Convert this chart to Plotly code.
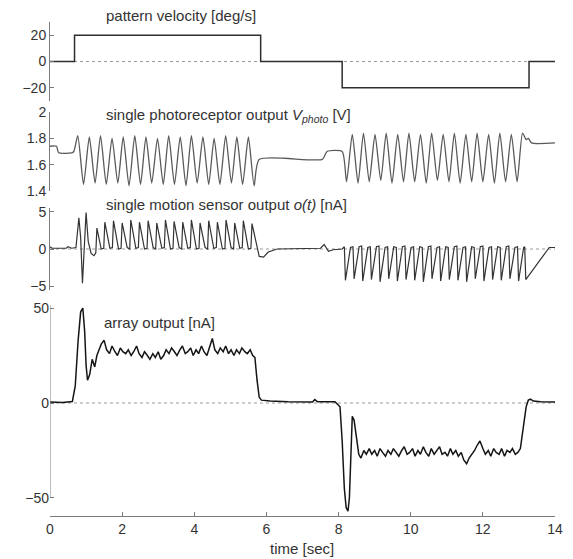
import plotly.graph_objects as go

# ---------------- data ----------------
time_ticks = [0, 2, 4, 6, 8, 10, 12, 14]

# pattern velocity [deg/s]
vel_t = [0.00, 0.68, 0.68, 5.84, 5.84, 8.10, 8.10, 13.28, 13.28, 14.00]
vel_v = [0, 0, 20, 20, 0, 0, -20, -20, 0, 0]

# single photoreceptor output [V]
photo_t = [0.00, 0.18, 0.24, 0.60, 0.66,
           0.77, 0.93, 1.09, 1.25, 1.40, 1.56, 1.72, 1.88, 2.03, 2.19, 2.35, 2.51, 2.66, 2.82, 2.98, 3.14,
           3.29, 3.45, 3.61, 3.77, 3.92, 4.08, 4.24, 4.40, 4.55, 4.71, 4.87, 5.03, 5.18, 5.34, 5.50, 5.66,
           5.80, 7.55, 7.68, 8.10,
           8.22, 8.38, 8.54, 8.69, 8.85, 9.01, 9.17, 9.32, 9.48, 9.64, 9.80, 9.95, 10.11, 10.27, 10.43, 10.58,
           10.74, 10.90, 11.06, 11.21, 11.37, 11.53, 11.69, 11.84, 12.00, 12.16, 12.32, 12.47, 12.63, 12.79, 12.95, 13.10,
           13.20, 13.26, 13.35, 14.00]
photo_v = [1.74, 1.74, 1.69, 1.69, 1.70,
           1.82, 1.45, 1.81, 1.46, 1.82, 1.45, 1.80, 1.46, 1.81, 1.44, 1.82, 1.45, 1.81, 1.46, 1.80, 1.45,
           1.82, 1.45, 1.81, 1.44, 1.82, 1.46, 1.81, 1.45, 1.80, 1.45, 1.82, 1.46, 1.81, 1.45, 1.81, 1.44,
           1.64, 1.64, 1.70, 1.70,
           1.47, 1.83, 1.46, 1.84, 1.47, 1.83, 1.48, 1.84, 1.46, 1.83, 1.47, 1.84, 1.47, 1.83, 1.46, 1.84,
           1.48, 1.83, 1.47, 1.84, 1.46, 1.83, 1.47, 1.84, 1.47, 1.83, 1.46, 1.84, 1.47, 1.83, 1.47, 1.84,
           1.79, 1.80, 1.765, 1.765]

# single motion sensor output o(t) [nA]
motion_t = [0.00, 0.06, 0.45, 0.50, 0.60, 0.72, 0.80, 0.85, 0.90, 0.95, 1.00, 1.06, 1.14, 1.22, 1.27, 1.30,
            1.42, 1.49, 1.52, 1.66, 1.73, 1.76, 1.90, 1.97, 2.00, 2.14, 2.21, 2.24,
            2.38, 2.45, 2.48, 2.62, 2.69, 2.72, 2.86, 2.93, 2.96, 3.10, 3.17, 3.20,
            3.34, 3.41, 3.44, 3.58, 3.65, 3.68, 3.82, 3.89, 3.92, 4.06, 4.13, 4.16,
            4.30, 4.37, 4.40, 4.54, 4.61, 4.64, 4.78, 4.85, 4.88, 5.02, 5.09, 5.12,
            5.26, 5.33, 5.36, 5.50, 5.57, 5.60,
            5.72, 5.80, 5.92, 6.05, 6.30, 7.00, 7.50, 7.60, 7.66, 7.72, 7.85, 8.10,
            8.16, 8.19, 8.33, 8.40, 8.43, 8.57, 8.64, 8.67, 8.81, 8.88, 8.91, 9.05,
            9.12, 9.15, 9.29, 9.36, 9.39, 9.53, 9.60, 9.63, 9.77, 9.84, 9.87, 10.01,
            10.08, 10.11, 10.25, 10.32, 10.35, 10.49, 10.56, 10.59, 10.73, 10.80, 10.83, 10.97,
            11.04, 11.07, 11.21, 11.28, 11.31, 11.45, 11.52, 11.55, 11.69, 11.76, 11.79, 11.93,
            12.00, 12.03, 12.17, 12.24, 12.27, 12.41, 12.48, 12.51, 12.65, 12.72, 12.75, 12.89,
            12.96, 12.99, 13.13, 13.16, 13.19, 13.84, 14.00]
motion_v = [0.3, 0.1, 0.1, 0.3, 0.1, 0.2, 4.2, 1.5, -4.6, 0.0, 4.9, 1.0, -0.6, -0.9, -0.5, 2.8,
            0.0, 0.1, 3.6, 0.1, 0.2, 3.8, 0.0, 0.1, 3.5, 0.2, 0.0, 3.9,
            0.1, 0.2, 3.6, 0.0, 0.1, 3.8, 0.2, 0.0, 3.5, 0.1, 0.2, 3.9,
            0.0, 0.1, 3.7, 0.2, 0.0, 3.6, 0.1, 0.2, 3.9, 0.0, 0.1, 3.5,
            0.2, 0.0, 3.8, 0.1, 0.2, 3.6, 0.0, 0.1, 3.9, 0.2, 0.0, 3.5,
            0.1, 0.2, 3.8, 0.0, 0.1, 3.4,
            0.5, -1.0, -1.1, -0.4, 0.0, 0.05, 0.1, 0.6, 0.2, -0.3, -0.1, 0.0,
            0.3, -4.2, 0.2, 0.3, -4.0, 0.3, 0.4, -4.3, 0.2, 0.3, -4.1, 0.3,
            0.4, -4.4, 0.2, 0.3, -4.0, 0.3, 0.2, -4.3, 0.3, 0.4, -4.1, 0.2,
            0.3, -4.2, 0.3, 0.2, -4.4, 0.3, 0.4, -4.0, 0.2, 0.3, -4.3, 0.3,
            0.2, -4.1, 0.3, 0.4, -4.2, 0.2, 0.3, -4.4, 0.3, 0.2, -4.0, 0.3,
            0.4, -4.3, 0.2, 0.3, -4.1, 0.3, 0.2, -4.2, 0.3, 0.4, -4.0, 0.2,
            0.3, -4.3, 0.2, 0.3, -4.1, 0.2, 0.2]

# array output [nA]
array_t = [0.00, 0.35, 0.62, 0.70, 0.78, 0.85, 0.91, 0.96, 1.00, 1.04, 1.10, 1.17, 1.24, 1.30, 1.36,
           1.42, 1.50, 1.57, 1.65, 1.72, 1.80, 1.87, 1.95, 2.02, 2.10,
           2.17, 2.25, 2.32, 2.40, 2.47, 2.55, 2.62, 2.70, 2.77, 2.85,
           2.92, 3.00, 3.07, 3.15, 3.22, 3.30, 3.37, 3.45, 3.52, 3.60,
           3.67, 3.75, 3.82, 3.90, 3.97, 4.05, 4.12, 4.20, 4.27, 4.35,
           4.42, 4.50, 4.57, 4.65, 4.72, 4.80, 4.87, 4.95, 5.02, 5.10,
           5.17, 5.25, 5.32, 5.40, 5.47, 5.55, 5.62,
           5.68, 5.74, 5.80, 5.86, 6.10, 6.60, 7.10, 7.28, 7.34, 7.42,
           7.90, 8.04, 8.10, 8.16, 8.21, 8.26, 8.30, 8.34, 8.38, 8.43, 8.49, 8.56,
           8.62, 8.70, 8.77, 8.85, 8.92, 9.00, 9.07, 9.15, 9.22, 9.30,
           9.37, 9.45, 9.52, 9.60, 9.67, 9.75, 9.82, 9.90, 9.97, 10.05,
           10.12, 10.20, 10.27, 10.35, 10.42, 10.50, 10.57, 10.65, 10.72, 10.80,
           10.87, 10.95, 11.02, 11.10, 11.17, 11.25, 11.32, 11.40, 11.47, 11.55,
           11.62, 11.70, 11.77, 11.85, 11.92, 12.00, 12.07, 12.15, 12.22, 12.30,
           12.37, 12.45, 12.52, 12.60, 12.67, 12.75, 12.82, 12.90, 12.97,
           13.04, 13.12, 13.20, 13.26, 13.32, 13.40, 13.60, 14.00]
array_v = [0.5, 0.3, 0.8, 9, 33, 48, 50, 38, 20, 12, 15, 23, 19, 25, 28,
           31, 33, 28, 26, 30, 27, 25, 29, 27, 26,
           28, 25, 27, 30, 26, 24, 27, 25, 23, 26,
           24, 27, 23, 25, 28, 26, 29, 27, 25, 28,
           30, 26, 27, 29, 25, 28, 26, 30, 27, 25,
           29, 34, 28, 26, 29, 27, 30, 26, 28, 25,
           28, 26, 29, 27, 26, 28, 25,
           24, 12, 3, 1.5, 1.0, 0.6, 0.8, 0.5, 1.8, 0.6,
           0.7, -2, -20, -45, -55, -57, -50, -25, -7, -9, -18, -27,
           -29, -25, -27, -24, -27, -25, -28, -24, -26, -28,
           -25, -27, -24, -26, -28, -25, -23, -27, -26, -24,
           -28, -25, -27, -23, -26, -28, -24, -27, -25, -23,
           -27, -26, -28, -24, -27, -25, -28, -26, -30, -32,
           -29, -27, -25, -22, -20, -24, -27, -25, -28, -24,
           -26, -27, -24, -28, -25, -26, -24, -27, -26,
           -24, -12, -2, 1.5, 2.0, 1.0, 0.6, 0.5]

# ---------------- layout helpers ----------------
W, H = 573, 559
ML, MR, MT, MB = 50, 10, 20, 43
FONT = "Liberation Sans, Arial, sans-serif"
TXT = "#333333"
AX = "#7a7a7a"


def row(py):
    """pixel row -> paper y"""
    return (H - MB - py) / (H - MT - MB)


def col(px):
    """pixel column -> paper x"""
    return (px - ML) / (W - ML - MR)


fig = go.Figure()
fig.add_trace(go.Scatter(x=vel_t, y=vel_v, xaxis="x", yaxis="y", mode="lines",
                         line=dict(color="#2e2e2e", width=1.5)))
fig.add_trace(go.Scatter(x=photo_t, y=photo_v, xaxis="x", yaxis="y2", mode="lines",
                         line=dict(color="#5a5a5a", width=1.3, shape="spline", smoothing=0.6)))
fig.add_trace(go.Scatter(x=motion_t, y=motion_v, xaxis="x", yaxis="y3", mode="lines",
                         line=dict(color="#333333", width=1.2)))
fig.add_trace(go.Scatter(x=array_t, y=array_v, xaxis="x", yaxis="y4", mode="lines",
                         line=dict(color="#151515", width=1.5)))

yax_common = dict(anchor="x", showgrid=False, zeroline=False, ticks="inside", ticklen=4,
                  tickcolor=AX, showline=True, linecolor=AX, linewidth=1,
                  tickfont=dict(family=FONT, size=14, color=TXT))

fig.update_layout(
    width=W, height=H,
    margin=dict(l=ML, r=MR, t=MT, b=MB),
    paper_bgcolor="white", plot_bgcolor="white",
    showlegend=False,
    xaxis=dict(domain=[0, 1], range=[0, 14], anchor="y4", tickvals=time_ticks,
               ticks="inside", ticklen=4, tickcolor=AX, showline=True, linecolor=AX,
               linewidth=1, showgrid=False, zeroline=False,
               tickfont=dict(family=FONT, size=14, color=TXT)),
    yaxis=dict(domain=[row(101), row(22)], range=[-30, 30], tickvals=[-20, 0, 20], **yax_common),
    yaxis2=dict(domain=[row(191), row(112)], range=[1.4, 2.0], tickvals=[1.4, 1.6, 1.8, 2.0],
                ticktext=["1.4", "1.6", "1.8", "2"], **yax_common),
    yaxis3=dict(domain=[row(290), row(208)], range=[-5.5, 5.5], tickvals=[-5, 0, 5], **yax_common),
    yaxis4=dict(domain=[row(516), row(305)], range=[-59.5, 51.6], tickvals=[-50, 0, 50],
                **{**yax_common, "showline": False}),
)

# dotted zero references
for ax in ["y", "y3", "y4"]:
    fig.add_shape(type="line", xref="x", yref=ax, x0=0, x1=14, y0=0, y1=0, layer="below",
                  line=dict(color="#9a9a9a", width=1, dash="dot"))

# left axis line of the array-output panel spans the tick range only
fig.add_shape(type="line", xref="x", yref="y4", x0=0, x1=0, y0=-50, y1=51.6,
              line=dict(color=AX, width=1))

labels = [
    ("pattern velocity [deg/s]", 105, 15),
    ("single photoreceptor output <i>V</i><sub><i>photo</i></sub> [V]", 105, 115),
    ("single motion sensor output <i>o(t)</i> [nA]", 105, 204),
    ("array output [nA]", 103, 322),
]
for text, px, py in labels:
    fig.add_annotation(text=text, xref="paper", yref="paper", x=col(px), y=row(py),
                       xanchor="left", yanchor="middle", showarrow=False,
                       font=dict(family=FONT, size=15, color=TXT))

fig.add_annotation(text="time [sec]", xref="paper", yref="paper", x=col(306), y=row(548),
                   xanchor="center", yanchor="middle", showarrow=False,
                   font=dict(family=FONT, size=15, color=TXT))

fig.write_html("out.html")
